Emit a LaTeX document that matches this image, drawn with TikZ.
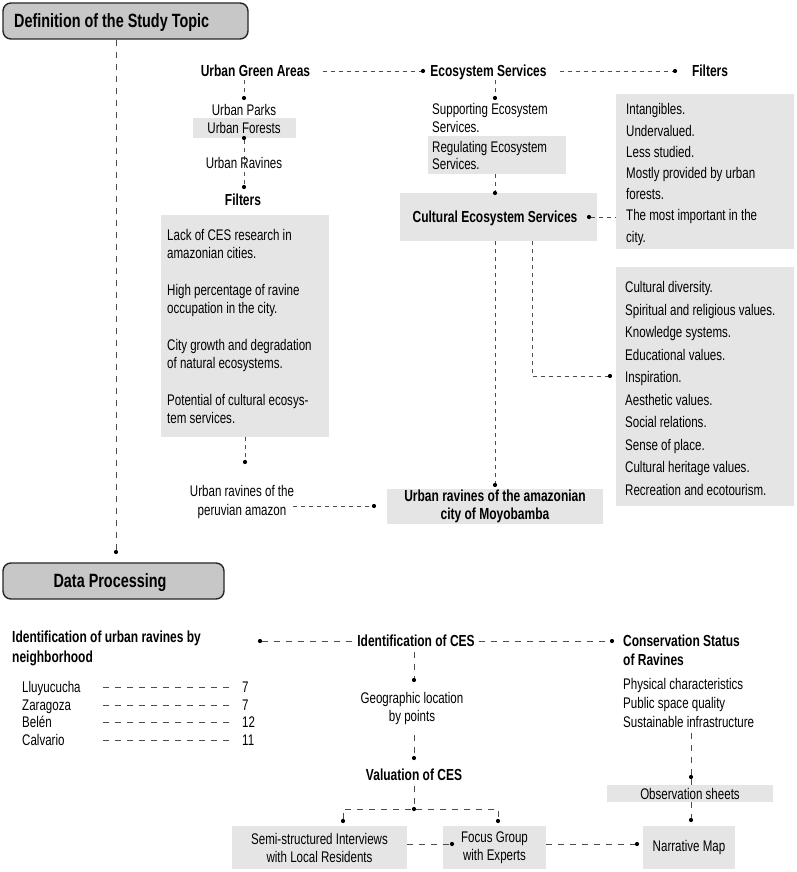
\documentclass[tikz,border=0pt]{standalone}
\usepackage{fontspec}
\setmainfont{Liberation Sans}[FakeStretch=0.75]
\newcommand\myn[1]{\fontsize{15.4}{#1}\selectfont}
\newcommand\myb[1]{\fontsize{16}{#1}\selectfont\bfseries}
\tikzset{
  dl/.style={draw=black!70, line width=0.75pt, dash pattern=on 4pt off 4pt},
  dlb/.style={draw=black!70, line width=0.9pt, dash pattern=on 6pt off 6pt},
  dot/.style={circle, fill=black, inner sep=0pt, minimum size=4.2pt},
  gbox/.style={fill=black!10, inner sep=0pt, align=center, font=\myn{18}},
  tbox/.style={fill=black!22, draw=black!85, line width=1.4pt, rounded corners=8pt, inner sep=0pt},
  tt/.style={font=\fontsize{19.2}{20}\selectfont\bfseries, inner sep=0pt, text height=13.5pt, text depth=0pt},
  bt/.style={font=\myb{18}, inner sep=0pt},
  nt/.style={font=\myn{18}, inner sep=0pt},
  sl/.style={text height=11pt, text depth=0pt},
}
\begin{document}
\begin{tikzpicture}[x=1pt,y=-1pt]
\useasboundingbox (0,0) rectangle (796,872);

% ---------- gray boxes ----------
\node[gbox, minimum width=103pt, minimum height=20pt] (ufb) at (244.5,128) {};
\node[gbox, minimum width=168pt, minimum height=222pt] (flb) at (245,326) {};
\node[gbox, minimum width=138pt, minimum height=38pt] (regb) at (497,155) {};
\node[gbox, minimum width=197pt, minimum height=48pt] (cesb) at (498.5,217) {};
\node[gbox, minimum width=178pt, minimum height=155pt] (frb) at (705,171.5) {};
\node[gbox, minimum width=178pt, minimum height=239pt] (lsb) at (705,386.5) {};
\node[gbox, minimum width=216pt, minimum height=35pt] (myb) at (495,506.5) {};
\node[gbox, minimum width=166pt, minimum height=17pt] (obs) at (690,793.5) {Observation sheets};
\node[gbox, minimum width=92pt, minimum height=43pt] (nm) at (689,847.5) {Narrative Map};
\node[gbox, minimum width=175pt, minimum height=43pt] (semi) at (319.5,847.5) {Semi-structured Interviews\\with Local Residents};
\node[gbox, minimum width=103pt, minimum height=43pt] (foc) at (494.5,847.5) {Focus Group\\with Experts};

% ---------- title boxes ----------
\node[tbox, minimum width=245pt, minimum height=36pt] (t1) at (125.5,21) {};
\node[tt, anchor=west] (t1t) at (14,21) {Definition of the Study Topic};
\node[tbox, minimum width=221pt, minimum height=36pt] (t2) at (113.5,581) {};
\node[tt] (t2t) at (110,581) {Data Processing};
\node[dot] (d0) at (116,552) {};
\draw[dlb] (d0 |- t1.south) -- (d0);

% ---------- top row ----------
\node[bt, sl] (uga) at (255.5,71) {Urban Green Areas};
\node[dot] (d1) at (423,71) {};
\node[bt, sl] (es) at (488.5,71) {Ecosystem Services};
\node[dot] (d2) at (675,71) {};
\node[bt, sl] (fr) at (710,71) {Filters};
\draw[dl] ([xshift=13pt]uga.east) -- (d1);
\draw[dl] ([xshift=13pt]es.east) -- (d2);

% ---------- left column ----------
\coordinate (c1) at (244,80);
\node[dot] (d3) at (244,98) {};
\draw[dl] (c1) -- (d3);
\node[nt, sl] (up) at (244,110) {Urban Parks};
\node[nt, sl] (uf) at (244,128) {Urban Forests};
\node[dot] (d4) at (244,138) {};
\node[dot] (d5) at (244,187) {};
\draw[dl] (d4) -- (d5);
\node[nt, sl] (ur) at (244,163) {Urban Ravines};
\node[bt, sl] (fl) at (243,200) {Filters};
\node[nt, align=left, anchor=west] (flt) at (167,326) {Lack of CES research in\\amazonian cities.\\[19pt]High percentage of ravine\\occupation in the city.\\[19pt]City growth and degradation\\of natural ecosystems.\\[19pt]Potential of cultural ecosys-\\tem services.};
\node[dot] (d6) at (245,462) {};
\draw[dl] (d6 |- flb.south) -- (d6);
\node[nt, align=center, font=\myn{19}] (urp) at (242,502.5) {Urban ravines of the\\peruvian amazon};
\coordinate (c2) at (293,506);
\node[dot] (d7) at (374,506) {};
\draw[dl] (c2) -- (d7);
\node[bt, align=center] (my) at (495,506.5) {Urban ravines of the amazonian\\city of Moyobamba};
\node[dot] (d8) at (495,485) {};

% ---------- middle column ----------
\coordinate (c3) at (495,80);
\node[dot] (d9) at (495,98) {};
\draw[dl] (c3) -- (d9);
\node[nt, align=left, anchor=west] (sup) at (432,118) {Supporting Ecosystem\\Services.};
\node[nt, align=left, anchor=west, font=\myn{17.5}] (reg) at (432,155.5) {Regulating Ecosystem\\Services.};
\node[dot] (d10) at (495,193) {};
\draw[dl] (d10 |- regb.south) -- (d10);
\node[bt, sl] (ces) at (495,217) {Cultural Ecosystem Services};
\node[dot] (d11) at (589,217) {};
\draw[dl] (d11) -- (d11 -| frb.west);
\node[nt, align=left, anchor=west, font=\myn{21.2}] (frt) at (626,174.5) {Intangibles.\\Undervalued.\\Less studied.\\Mostly provided by urban\\forests.\\The most important in the\\city.};
\draw[dl] (d8 |- cesb.south) -- (d8);
\node[nt, align=left, anchor=west, font=\myn{22.56}] (lst) at (625,388.5) {Cultural diversity.\\Spiritual and religious values.\\Knowledge systems.\\Educational values.\\Inspiration.\\Aesthetic values.\\Social relations.\\Sense of place.\\Cultural heritage values.\\Recreation and ecotourism.};
\coordinate (c4) at (532,241);
\node[dot] (d12) at (610,376) {};
\draw[dl] (c4) |- (d12);

% ---------- bottom section ----------
\node[bt, align=left, anchor=west, font=\myb{20}] (irn) at (12,648) {Identification of urban ravines by\\neighborhood};
\node[nt, sl, anchor=west] (n1) at (22,687) {Lluyucucha};
\node[nt, sl, anchor=west] (n2) at (22,705) {Zaragoza};
\node[nt, sl, anchor=west] (n3) at (22,722) {Belén};
\node[nt, sl, anchor=west] (n4) at (22,740) {Calvario};
\node[nt, sl, anchor=west] (m1) at (242,687) {7};
\node[nt, sl, anchor=west] (m2) at (242,705) {7};
\node[nt, sl, anchor=west] (m3) at (242,722) {12};
\node[nt, sl, anchor=west] (m4) at (242,740) {11};
\foreach \i in {1,2,3,4}{
  \draw[dlb] ([xshift=81pt]n\i.west) -- ([xshift=-10pt]m\i.west);
}

\node[dot] (d13) at (260,641) {};
\node[bt, sl] (ic) at (416,641) {Identification of CES};
\draw[dlb] (d13) -- ([xshift=-4pt]ic.west);
\node[dot] (d14) at (612,641) {};
\draw[dlb] ([xshift=4pt]ic.east) -- (d14);
\node[bt, align=left, anchor=west, font=\myb{19}] (cs) at (623,650.5) {Conservation Status\\of Ravines};
\node[nt, align=left, anchor=west, font=\myn{19}] (pc) at (623,703) {Physical characteristics\\Public space quality\\Sustainable infrastructure};
\coordinate (c5) at (691,733);
\node[dot] (d15) at (691,777) {};
\draw[dlb] (c5) -- (d15);
\draw[dlb] (d15) -- (d15 |- obs.north);
\node[dot] (d16) at (691,820) {};
\draw[dlb] (d16 |- obs.south) -- (d16);

\coordinate (c6) at (414,652);
\node[dot] (d17) at (414,680) {};
\draw[dlb] (c6) -- (d17);
\node[nt, align=center] (geo) at (412,709) {Geographic location\\by points};
\coordinate (c7) at (414,735);
\node[dot] (d18) at (414,758) {};
\draw[dlb] (c7) -- (d18);
\node[bt, sl] (val) at (414,775) {Valuation of CES};
\coordinate (c8) at (414,786);
\node[dot] (d19) at (414,809) {};
\draw[dlb] (c8) -- (d19);
\node[dot] (d20) at (343,821) {};
\node[dot] (d21) at (498,821) {};
\draw[dlb] (d20) |- (d19) -| (d21);
\node[dot] (d22) at (452,844) {};
\draw[dlb] (semi.east |- d22) -- (d22);
\node[dot] (d23) at (637,844) {};
\draw[dlb] (foc.east |- d23) -- (d23);
\end{tikzpicture}
\end{document}
